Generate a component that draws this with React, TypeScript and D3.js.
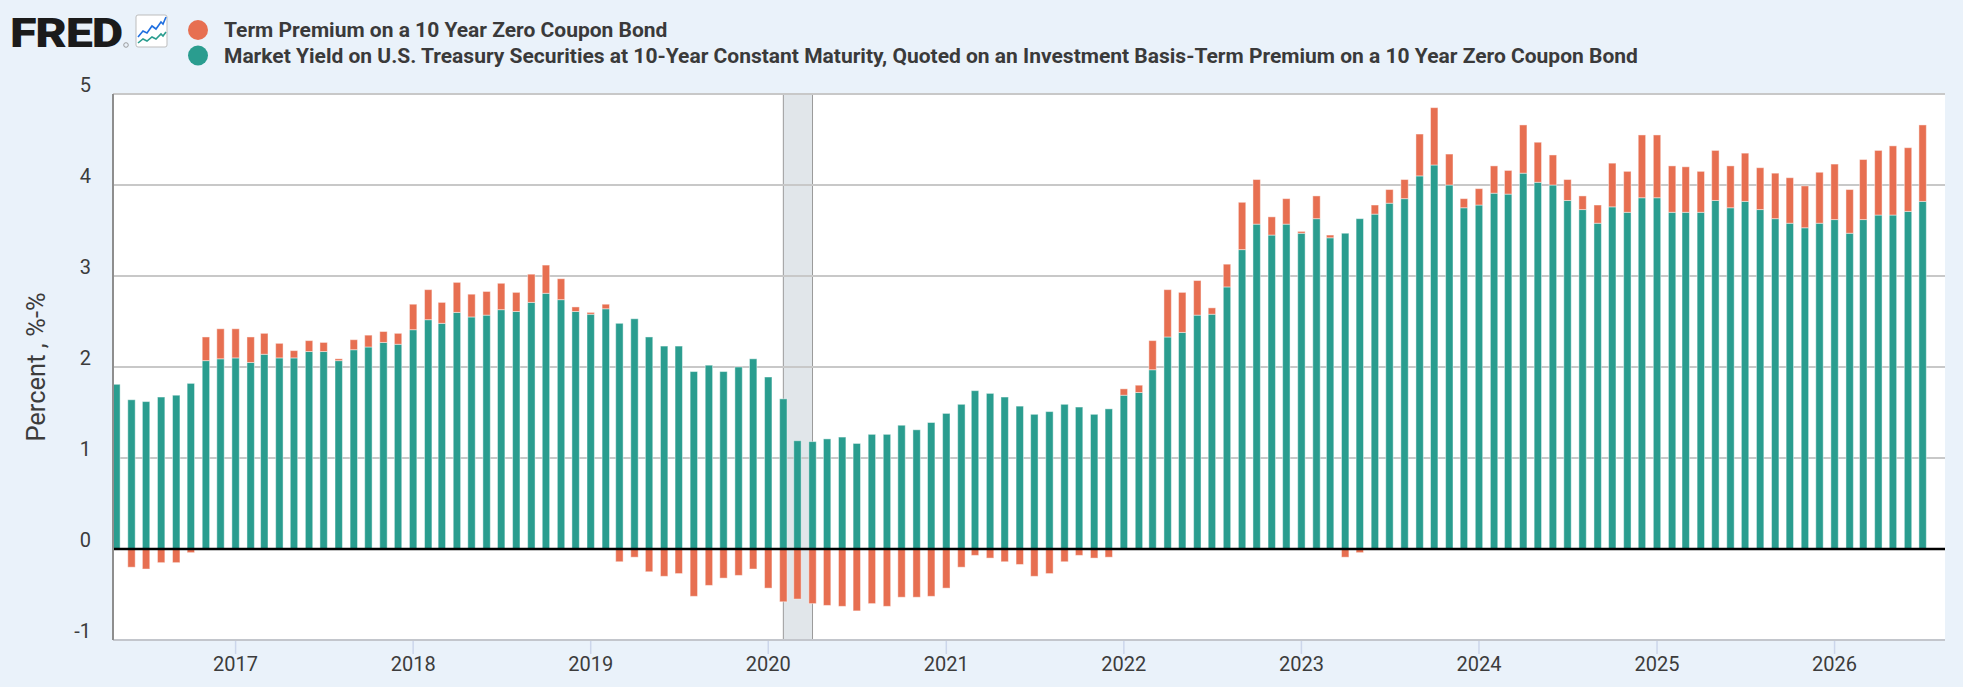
import React, { useMemo } from 'react';
import * as d3 from 'd3';

/* ── Data (monthly, May 2016 → Jul 2026) ─────────────────────────── */
const startMonth = '2016-05';

// Term Premium on a 10 Year Zero Coupon Bond
const termPremium = [
  // 2016 May-Dec
  0.0, -0.2, -0.22, -0.15, -0.15, -0.04, 0.26, 0.33,
  // 2017
  0.32, 0.28, 0.23, 0.16, 0.08, 0.12, 0.1, 0.02, 0.11, 0.13, 0.12, 0.12,
  // 2018
  0.28, 0.33, 0.23, 0.33, 0.25, 0.26, 0.29, 0.21, 0.31, 0.31, 0.23, 0.05,
  // 2019
  0.02, 0.05, -0.14, -0.09, -0.25, -0.3, -0.27, -0.52, -0.4, -0.32, -0.29, -0.22,
  // 2020
  -0.43, -0.58, -0.55, -0.6, -0.62, -0.63, -0.68, -0.6, -0.63, -0.53, -0.53, -0.52,
  // 2021
  -0.43, -0.2, -0.07, -0.1, -0.14, -0.17, -0.3, -0.27, -0.14, -0.07, -0.1, -0.09,
  // 2022
  0.07, 0.08, 0.32, 0.52, 0.44, 0.38, 0.07, 0.25, 0.52, 0.49, 0.2, 0.28,
  // 2023
  0.02, 0.25, 0.03, -0.09, -0.04, 0.1, 0.15, 0.21, 0.46, 0.63, 0.34, 0.1,
  // 2024
  0.18, 0.3, 0.26, 0.53, 0.44, 0.33, 0.23, 0.15, 0.2, 0.48, 0.45, 0.69,
  // 2025
  0.69, 0.51, 0.5, 0.45, 0.55, 0.46, 0.53, 0.46, 0.5, 0.5, 0.46, 0.56,
  // 2026 Jan-Jul
  0.61, 0.48, 0.66, 0.71, 0.76, 0.7, 0.84,
];

// 10-Year Treasury yield minus term premium
const yieldLessPremium = [
  1.81, 1.64, 1.62, 1.67, 1.69, 1.82, 2.07, 2.09,
  2.1, 2.05, 2.14, 2.1, 2.1, 2.17, 2.17, 2.07, 2.19, 2.22, 2.27, 2.25,
  2.41, 2.52, 2.48, 2.6, 2.55, 2.57, 2.63, 2.61, 2.71, 2.81, 2.74, 2.61,
  2.58, 2.64, 2.48, 2.53, 2.33, 2.23, 2.23, 1.95, 2.02, 1.95, 2.0, 2.09,
  1.89, 1.65, 1.19, 1.18, 1.21, 1.23, 1.16, 1.26, 1.26, 1.36, 1.31, 1.39,
  1.49, 1.59, 1.74, 1.71, 1.67, 1.57, 1.48, 1.51, 1.59, 1.56, 1.48, 1.54,
  1.69, 1.72, 1.97, 2.33, 2.38, 2.57, 2.58, 2.88, 3.29, 3.57, 3.45, 3.57,
  3.47, 3.63, 3.42, 3.47, 3.63, 3.68, 3.8, 3.85, 4.1, 4.22, 4.0, 3.75,
  3.78, 3.91, 3.9, 4.13, 4.03, 4.0, 3.83, 3.73, 3.58, 3.76, 3.7, 3.86,
  3.86, 3.7, 3.7, 3.7, 3.83, 3.75, 3.82, 3.73, 3.63, 3.58, 3.53, 3.58,
  3.62, 3.47, 3.62, 3.67, 3.67, 3.71, 3.82,
];

const yTicks = [-1, 0, 1, 2, 3, 4, 5];
const xTickYears = [2017, 2018, 2019, 2020, 2021, 2022, 2023, 2024, 2025, 2026];
const recession = ['2020-02-01', '2020-04-01'];

const legendItems = [
  { label: 'Term Premium on a 10 Year Zero Coupon Bond', color: '#e76f51' },
  {
    label:
      'Market Yield on U.S. Treasury Securities at 10-Year Constant Maturity, Quoted on an Investment Basis-Term Premium on a 10 Year Zero Coupon Bond',
    color: '#2a9d8f',
  },
];

/* ── Layout ──────────────────────────────────────────────────────── */
const W = 1963;
const H = 687;
const plot = { left: 113, right: 1945, top: 94, bottom: 640 };
const FONT = 'Roboto, "Noto Sans", sans-serif';

type Row = { date: Date; base: number; tp: number };

export default function App() {
  const rows: Row[] = useMemo(() => {
    const t0 = d3.timeParse('%Y-%m')(startMonth)!;
    return yieldLessPremium.map((v, i) => ({
      date: d3.timeMonth.offset(t0, i),
      base: v,
      tp: termPremium[i],
    }));
  }, []);

  const x = d3
    .scaleTime()
    .domain([new Date(2016, 3, 24), new Date(2026, 7, 16)])
    .range([plot.left, plot.right]);
  const y = d3.scaleLinear().domain([-1, 5]).range([plot.bottom, plot.top]);

  // teal stacks up from zero, term premium on top (or below zero when negative)
  const stack = d3
    .stack<Row>()
    .keys(['base', 'tp'])
    .value((d, k) => (d as any)[k])
    .offset(d3.stackOffsetDiverging);
  const series = stack(rows);
  const colors = ['#2a9d8f', '#e76f51'];
  const barW = 7.4;

  const recX0 = x(new Date(recession[0]));
  const recX1 = x(new Date(recession[1]));

  return (
    <svg
      width={W}
      height={H}
      style={{ position: 'absolute', left: 0, top: 0, fontFamily: FONT }}
    >
      <rect width={W} height={H} fill="#eaf2fa" />

      {/* FRED logo */}
      <text
        x={10}
        y={47}
        fontSize={40}
        fontWeight={900}
        fill="#1b1b1b"
        textLength={112}
        lengthAdjust="spacingAndGlyphs"
        style={{ fontFamily: 'Roboto, "Liberation Sans", sans-serif', letterSpacing: '-1px' }}
      >
        FRED
      </text>
      <circle cx={126} cy={45} r={2.3} fill="none" stroke="#888" strokeWidth={0.8} />
      <rect x={136} y={15} width={31} height={32} rx={2} fill="#fff" stroke="#bdbdbd" />
      <polyline
        points="138,37 143,31 147,33 152,26 156,29 161,22 163,24 166,17"
        fill="none"
        stroke="#1f6fe0"
        strokeWidth={1.6}
      />
      <polyline
        points="138,43 143,39 147,41 152,37 156,39 161,34 163,36 166,32"
        fill="none"
        stroke="#2a9d8f"
        strokeWidth={1.6}
      />

      {/* Legend */}
      {legendItems.map((d, i) => (
        <g key={d.label}>
          <circle cx={198} cy={30 + i * 25.5} r={10} fill={d.color} />
          <text x={224} y={37 + i * 25.5} fontSize={21} fontWeight={700} fill="#3a3a3a">
            {d.label}
          </text>
        </g>
      ))}

      {/* Plot area */}
      <rect
        x={plot.left}
        y={plot.top}
        width={plot.right - plot.left}
        height={plot.bottom - plot.top}
        fill="#fff"
      />

      {/* Recession band */}
      <rect
        x={recX0}
        y={plot.top}
        width={recX1 - recX0}
        height={plot.bottom - plot.top}
        fill="#e1e6ea"
      />
      <line x1={recX0} x2={recX0} y1={plot.top} y2={plot.bottom} stroke="#9a9a9a" strokeWidth={1} />
      <line x1={recX1} x2={recX1} y1={plot.top} y2={plot.bottom} stroke="#9a9a9a" strokeWidth={1} />

      {/* Grid */}
      {yTicks
        .filter(t => t !== 0)
        .map(t => (
          <line
            key={t}
            x1={plot.left}
            x2={plot.right}
            y1={y(t)}
            y2={y(t)}
            stroke={t === -1 ? '#c3c6cc' : '#c8c8c8'}
            strokeWidth={2}
          />
        ))}

      {/* Bars */}
      {series.map((s, si) => (
        <g key={s.key} fill={colors[si]}>
          {s.map((d, i) => {
            const y0 = y(d[0]);
            const y1 = y(d[1]);
            const h = Math.abs(y0 - y1);
            if (h < 0.01) return null;
            return (
              <rect
                key={i}
                x={x(d.data.date) - barW / 2}
                y={Math.min(y0, y1)}
                width={barW}
                height={h}
                stroke="rgba(255,255,255,0.45)"
                strokeWidth={1}
              />
            );
          })}
        </g>
      ))}

      {/* Zero line */}
      <line x1={plot.left} x2={plot.right} y1={y(0)} y2={y(0)} stroke="#000" strokeWidth={2.6} />

      {/* Left axis line */}
      <line x1={plot.left} x2={plot.left} y1={plot.top} y2={plot.bottom} stroke="#8e8e8e" strokeWidth={2} />

      {/* Y tick labels */}
      {yTicks.map(t => (
        <text
          key={t}
          x={91}
          y={y(t) - 2}
          textAnchor="end"
          fontSize={20}
          fill="#3c3c3c"
        >
          {t}
        </text>
      ))}

      {/* Y axis title */}
      <text
        transform={`translate(45,${(plot.top + plot.bottom) / 2}) rotate(-90)`}
        textAnchor="middle"
        fontSize={25.5}
        fill="#3c3c3c"
      >
        Percent , %-%
      </text>

      {/* X ticks */}
      {xTickYears.map(yr => {
        const xx = x(new Date(yr, 0, 1));
        return (
          <g key={yr}>
            <line x1={xx} x2={xx} y1={plot.bottom + 1} y2={plot.bottom + 14} stroke="#ccd6eb" strokeWidth={1.5} />
            <text x={xx} y={671} textAnchor="middle" fontSize={20} fill="#3c3c3c">
              {yr}
            </text>
          </g>
        );
      })}
    </svg>
  );
}
